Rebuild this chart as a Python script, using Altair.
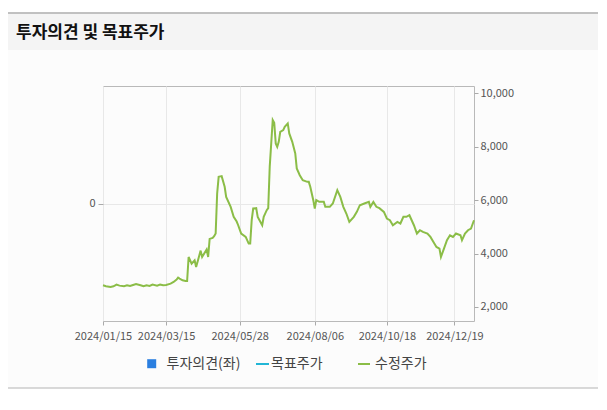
import altair as alt
import pandas as pd

# ---- data ----
day_idx = [0, 2, 5, 7, 9, 11, 14, 16, 18, 20, 22, 25, 27, 29, 31, 33, 36, 38, 40, 42,
           45, 47, 49, 50, 51, 53, 55, 56, 57, 59, 61, 62, 65, 66, 69, 70, 71, 73, 74, 75,
           76, 77, 79, 81, 82, 85, 87, 89, 90, 92, 95, 97, 98, 99, 100, 102, 103, 106, 107, 109,
           110, 111, 112, 113, 114, 115, 116, 117, 118, 120, 121, 123, 124, 126, 128, 129, 131, 133, 136, 137,
           138, 140, 141, 142, 144, 147, 148, 151, 153, 156, 158, 160, 162, 164, 167, 169, 171, 174, 177, 178,
           180, 182, 184, 187, 189, 191, 193, 196, 198, 200, 202, 204, 207, 209, 211, 213, 216, 218, 220, 222,
           224, 225, 227, 229, 231, 233, 235, 238, 239, 241, 243, 245, 247]
price = [2811, 2774, 2748, 2774, 2837, 2800, 2774, 2811, 2786, 2824, 2861, 2811, 2774, 2811, 2786, 2837, 2800, 2837, 2811, 2824,
         2874, 2936, 3025, 3100, 3063, 3000, 2975, 2975, 3873, 3625, 3749, 3500, 4110, 3873, 4150, 3873, 4550, 4586, 4650, 4750,
         6250, 6875, 6900, 6500, 6124, 5750, 5375, 5200, 5061, 4750, 4624, 4375, 4375, 5249, 5687, 5700, 5375, 5061, 5375, 5624,
         5700, 7249, 8125, 9000, 8900, 8125, 7999, 8185, 8560, 8624, 8749, 8875, 8500, 8185, 7750, 7187, 6936, 6749, 6686, 6686,
         6500, 6000, 5687, 6000, 5936, 5936, 5750, 5750, 5875, 6374, 6124, 5750, 5500, 5186, 5375, 5561, 5811, 5875, 5936, 5750,
         5936, 5750, 5700, 5561, 5312, 5249, 5061, 5186, 5125, 5375, 5375, 5436, 5061, 4750, 4874, 4811, 4750, 4624, 4436, 4249,
         4187, 3873, 4187, 4500, 4686, 4624, 4750, 4686, 4500, 4750, 4874, 4937, 5249]

tick_idx = [0, 42, 91, 141, 189, 234]
tick_labels = ["2024/01/15", "2024/03/15", "2024/05/28", "2024/08/06", "2024/10/18", "2024/12/19"]
price_ticks = [2000, 4000, 6000, 8000, 10000]
legend_labels = ["투자의견(좌)", "목표주가", "수정주가"]
title_text = "투자의견 및 목표주가"

FONT = "Noto Sans CJK KR"
GREEN = "#8bbd47"
BLUE = "#2b7fe0"
CYAN = "#22b6d6"

df = pd.DataFrame({"idx": day_idx, "price": price})
one = pd.DataFrame({"a": [0]})

label_expr = " : ".join(f"datum.value == {v} ? '{l}'" for v, l in zip(tick_idx, tick_labels)) + " : ''"

# decorations (plot-area coordinates; plot origin at page (103, 86))
top_strip = alt.Chart(one).mark_rect(color="white").encode(
    x=alt.value(-95), x2=alt.value(496), y=alt.value(-78), y2=alt.value(-73))
bottom_strip = alt.Chart(one).mark_rect(color="white").encode(
    x=alt.value(-95), x2=alt.value(496), y=alt.value(302), y2=alt.value(330))
band = alt.Chart(one).mark_rect(color="#f4f4f4").encode(
    x=alt.value(-95), x2=alt.value(496), y=alt.value(-72), y2=alt.value(-36))
top_line = alt.Chart(one).mark_rule(color="#acacac", strokeWidth=1.5).encode(
    x=alt.value(-95), x2=alt.value(496), y=alt.value(-73))
bottom_line = alt.Chart(one).mark_rule(color="#cccccc", strokeWidth=1.5).encode(
    x=alt.value(-95), x2=alt.value(496), y=alt.value(302))
title = alt.Chart(one).mark_text(
    text=title_text, font=FONT, fontSize=17, fontWeight="bold", color="#111111",
    align="left", baseline="middle").encode(x=alt.value(-87), y=alt.value(-53))

# left axis (opinion) - no data, only the 0 tick and its grid line
left = alt.Chart(one).mark_rule(opacity=0).encode(
    y=alt.Y(datum=0, type="quantitative",
            scale=alt.Scale(domain=[-1, 1], nice=False, zero=False),
            axis=alt.Axis(orient="left", values=[0], title=None, grid=True,
                          gridColor="#e8e8e8", domain=False, tickSize=5,
                          tickColor="#aaaaaa", labelPadding=3, labelFont=FONT,
                          labelFontSize=11, labelColor="#555555")))

line = alt.Chart(df).mark_line(color=GREEN, strokeWidth=2).encode(
    x=alt.X("idx:Q", scale=alt.Scale(domain=[0, 247], nice=False, zero=False),
            axis=alt.Axis(values=tick_idx, labelExpr=label_expr, title=None, grid=True,
                          gridColor="#e8e8e8", domain=False, tickSize=4,
                          tickColor="#aaaaaa", labelPadding=5, labelFont=FONT,
                          labelFontSize=11, labelColor="#555555", labelFlush=False,
                          labelOverlap=False)),
    y=alt.Y("price:Q", scale=alt.Scale(domain=[1475, 10275], nice=False, zero=False),
            axis=alt.Axis(orient="right", values=price_ticks, format=",d", title=None,
                          grid=False, domain=False, tickSize=4, tickColor="#aaaaaa",
                          labelPadding=2, labelFont=FONT, labelFontSize=11,
                          labelColor="#555555")))

# legend
leg_sq = alt.Chart(one).mark_square(color=BLUE, size=81, opacity=1).encode(
    x=alt.value(48.7), y=alt.value(277.7))
leg_cyan = alt.Chart(one).mark_rule(color=CYAN, strokeWidth=2).encode(
    x=alt.value(153), x2=alt.value(166), y=alt.value(278))
leg_green = alt.Chart(one).mark_rule(color=GREEN, strokeWidth=2).encode(
    x=alt.value(255), x2=alt.value(267), y=alt.value(278))
leg_t1 = alt.Chart(one).mark_text(text=legend_labels[0], font=FONT, fontSize=14, color="#444444",
                                  align="left", baseline="middle").encode(x=alt.value(63.5), y=alt.value(277.5))
leg_t2 = alt.Chart(one).mark_text(text=legend_labels[1], font=FONT, fontSize=14, color="#444444",
                                  align="left", baseline="middle").encode(x=alt.value(168), y=alt.value(277.5))
leg_t3 = alt.Chart(one).mark_text(text=legend_labels[2], font=FONT, fontSize=14, color="#444444",
                                  align="left", baseline="middle").encode(x=alt.value(272), y=alt.value(277.5))

chart = alt.layer(
    top_strip, bottom_strip, band, top_line, bottom_line, title,
    left, line,
    leg_sq, leg_cyan, leg_green, leg_t1, leg_t2, leg_t3
).resolve_scale(y="independent").properties(
    width=371, height=235,
    autosize=alt.AutoSizeParams(type="none"),
    padding={"left": 95, "top": 78, "right": 124, "bottom": 70},
    background="#fcfcfc"
).configure_view(stroke="#b9b9b9", strokeWidth=1)

chart.save("out.html", embed_options={"renderer": "svg", "actions": False})
